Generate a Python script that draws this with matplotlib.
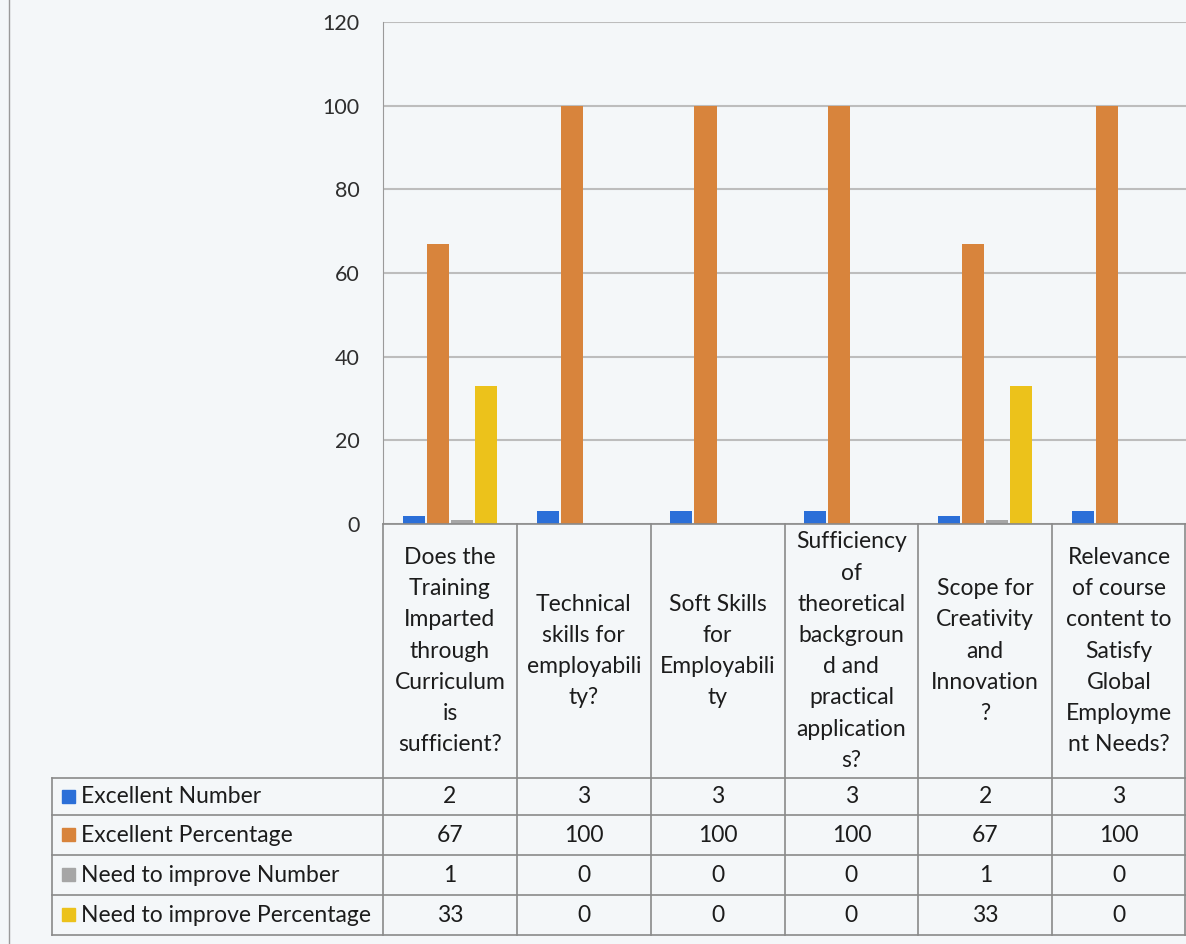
import numpy as np
import matplotlib.pyplot as plt

plt.rcParams['font.family'] = ['Lato', 'DejaVu Sans']

W, H = 1186, 944

# category labels, wrapped the way the spreadsheet wrapped them
categories = [
    "Does the\nTraining\nImparted\nthrough\nCurriculum\nis\nsufficient?",
    "Technical\nskills for\nemployabili\nty?",
    "Soft Skills\nfor\nEmployabili\nty",
    "Sufficiency\nof\ntheoretical\nbackgroun\nd and\npractical\napplication\ns?",
    "Scope for\nCreativity\nand\nInnovation\n?",
    "Relevance\nof course\ncontent to\nSatisfy\nGlobal\nEmployme\nnt Needs?",
]
series_names = ["Excellent Number", "Excellent Percentage",
                "Need to improve Number", "Need to improve Percentage"]
excellent_number = [2, 3, 3, 3, 2, 3]
excellent_pct = [67, 100, 100, 100, 67, 100]
improve_number = [1, 0, 0, 0, 1, 0]
improve_pct = [33, 0, 0, 0, 33, 0]
yticks = [0, 20, 40, 60, 80, 100, 120]

series = [excellent_number, excellent_pct, improve_number, improve_pct]
colors = ['#2b6fd8', '#d8843c', '#a6a6a6', '#ecc21b']
bg = '#f4f7f9'
line_c = '#8a8a8a'
txt_c = '#1c1c1c'

fig = plt.figure(figsize=(W / 100, H / 100), dpi=100, facecolor=bg)

# chart area
x0, y0, ytop = 383, 524, 22
ax = fig.add_axes([x0 / W, 1 - y0 / H, (W - x0) / W, (y0 - ytop) / H])
ax.set_facecolor(bg)
n = len(categories)
x = np.arange(n) + 0.5
bw = 0.165
step = 0.18
for i, (vals, c) in enumerate(zip(series, colors)):
    ax.bar(x + (i - 1.5) * step, vals, width=bw, color=c, zorder=3)
ax.set_xlim(0, n)
ax.set_ylim(0, 120)
ax.set_yticks(yticks)
ax.set_xticks([])
ax.grid(axis='y', color='#bdbdbd', linewidth=1.5, zorder=0)
for s in ['top', 'right', 'bottom']:
    ax.spines[s].set_visible(False)
ax.spines['left'].set_color('#9a9a9a')
ax.tick_params(axis='y', length=0, pad=17, labelsize=15.5, labelcolor='#2e2e2e')

# data table below the chart, in pixel coordinates
tab = fig.add_axes([0, 0, 1, 1])
tab.set_xlim(0, W)
tab.set_ylim(H, 0)
tab.axis('off')
tab.patch.set_alpha(0)

col_w = (W - x0) / n
rows_y = [778, 815, 855, 895, 935]
lw = 1.2

tab.plot([x0, W], [y0, y0], color=line_c, lw=lw)
for i in range(n + 1):
    xx = min(x0 + i * col_w, W - 1)
    tab.plot([xx, xx], [y0, rows_y[-1]], color=line_c, lw=lw)
for yy in rows_y:
    tab.plot([52, W], [yy, yy], color=line_c, lw=lw)
tab.plot([52, 52], [rows_y[0], rows_y[-1]], color=line_c, lw=lw)
tab.plot([9, 9], [0, H], color='#9a9a9a', lw=1)

for i, lab in enumerate(categories):
    tab.text(x0 + (i + 0.5) * col_w, 651, lab, ha='center', va='center',
             fontsize=16.5, color=txt_c, linespacing=1.6)

for r, (name, vals, c) in enumerate(zip(series_names, series, colors)):
    yc = (rows_y[r] + rows_y[r + 1]) / 2
    tab.add_patch(plt.Rectangle((62, yc - 7), 13, 13, color=c))
    tab.text(81, yc, name, ha='left', va='center', fontsize=16.5, color=txt_c)
    for i, v in enumerate(vals):
        tab.text(x0 + (i + 0.5) * col_w, yc, str(v), ha='center', va='center',
                 fontsize=16.5, color=txt_c)

fig.savefig('out.png', dpi=100, facecolor=bg)
